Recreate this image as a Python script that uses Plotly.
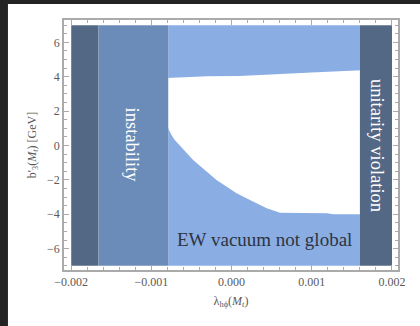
import plotly.graph_objects as go

# region boundaries (lambda_hphi)
lam_min, lam_max = -0.002, 0.002
lam_unstable_dark = -0.00166
lam_unstable = -0.00079
lam_unitarity = 0.0016
b3_min, b3_max = -7.0, 7.0

# boundary of the allowed (white) region
lam_up = [-0.00079, -0.0003, 0.0001, 0.0005, 0.001, 0.0016]
b3_up = [3.92, 4.03, 4.05, 4.12, 4.24, 4.38]
lam_lo = [-0.00079, -0.00075, -0.000709, -0.00048, -0.000188, 0.0000625,
          0.000229, 0.000438, 0.000604, 0.00119, 0.00127, 0.0016]
b3_lo = [1.19, 0.61, 0.32, -0.84, -2.01, -2.78, -3.17, -3.65, -3.91, -3.94, -4.0, -4.0]

x_ticks = [-0.002, -0.001, 0.0, 0.001, 0.002]
x_ticklabels = ["−0.002", "−0.001", "0.000", "0.001", "0.002"]
y_ticks = [-6, -4, -2, 0, 2, 4, 6]
y_ticklabels = ["−6", "−4", "−2", "0", "2", "4", "6"]

c_dark = "#536885"
c_mid = "#6b8cb8"
c_light = "#8aaee4"
font = "Liberation Serif"

def rect(x0, x1, y0, y1, color):
    return go.Scatter(x=[x0, x1, x1, x0, x0], y=[y0, y0, y1, y1, y0],
                      fill="toself", fillcolor=color, mode="lines",
                      line=dict(width=0, color=color), hoverinfo="skip",
                      showlegend=False)

fig = go.Figure()
fig.add_trace(rect(lam_unstable, lam_unitarity, b3_min, b3_max, c_light))
# white allowed region, tucked slightly under the neighbouring bands
wx = [lam_up[0] - 0.00002] + lam_up[1:-1] + [lam_up[-1] + 0.00002] \
     + [lam_lo[-1] + 0.00002] + lam_lo[-2:0:-1] + [lam_lo[0] - 0.00002]
wy = b3_up + b3_lo[::-1]
fig.add_trace(go.Scatter(x=wx + [wx[0]], y=wy + [wy[0]], fill="toself",
                         fillcolor="white", mode="lines",
                         line=dict(width=0, color="white"),
                         hoverinfo="skip", showlegend=False))
fig.add_trace(rect(lam_min, lam_unstable_dark, b3_min, b3_max, c_dark))
fig.add_trace(rect(lam_unstable_dark, lam_unstable, b3_min, b3_max, c_mid))
fig.add_trace(rect(lam_unitarity, lam_max, b3_min, b3_max, c_dark))

axis_common = dict(showgrid=False, zeroline=False, showline=True, linecolor="#aaaaaa",
                   linewidth=1.5, mirror="ticks", ticks="inside", ticklen=5,
                   tickcolor="#aaaaaa", tickwidth=1,
                   tickfont=dict(family=font, size=12, color="#5a5a5a"))

fig.update_xaxes(range=[-0.00209, 0.002075], tickvals=x_ticks, ticktext=x_ticklabels,
                 minor=dict(dtick=0.0002, ticks="inside", ticklen=3, tickcolor="#aaaaaa"),
                 title=dict(text="λ<sub>hϕ</sub>(<i>M<sub>t</sub></i>)",
                            font=dict(family=font, size=12, color="#5a5a5a"), standoff=8),
                 **axis_common)
fig.update_yaxes(range=[-7.24, 7.3], tickvals=y_ticks, ticktext=y_ticklabels,
                 minor=dict(dtick=0.5, ticks="inside", ticklen=3, tickcolor="#aaaaaa"),
                 title=dict(text="b'<sub>3</sub>(<i>M<sub>t</sub></i>) [GeV]",
                            font=dict(family=font, size=12, color="#5a5a5a"), standoff=8),
                 **axis_common)

fig.add_annotation(x=-0.00123, y=0.0, text="instability", textangle=90, showarrow=False,
                   font=dict(family=font, size=18.5, color="white"))
fig.add_annotation(x=0.00182, y=0.0, text="unitarity violation", textangle=90, showarrow=False,
                   font=dict(family=font, size=18.5, color="white"))
fig.add_annotation(x=0.000404, y=-5.48, text="EW vacuum not global", showarrow=False,
                   font=dict(family=font, size=19, color="#2d3442"))

fig.add_shape(type="rect", xref="paper", yref="paper", x0=-0.1678, x1=1.3,
              y0=-0.4, y1=1.064, fillcolor="white", line=dict(width=0), layer="below")

fig.update_layout(width=420, height=326, margin=dict(l=64, r=22.3, t=20, b=56),
                  paper_bgcolor="#232323", plot_bgcolor="white")
fig.write_html("out.html")
